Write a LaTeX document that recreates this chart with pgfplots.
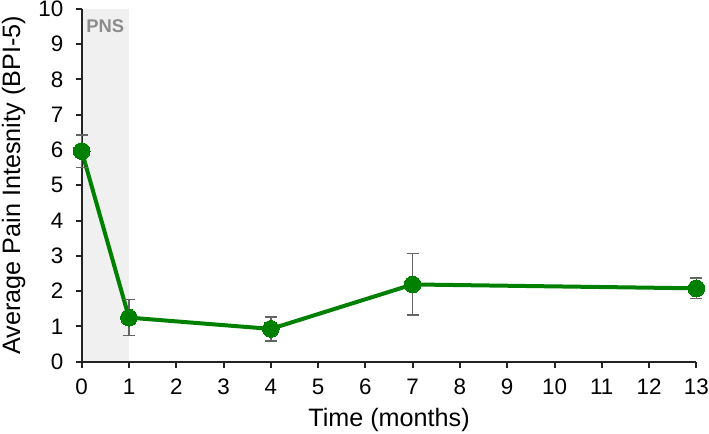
\documentclass[border=0pt]{standalone}
\usepackage{fontspec}
\setmainfont{Liberation Sans}
\usepackage{pgfplots}
\pgfplotsset{compat=1.18}
\definecolor{pgreen}{RGB}{0,128,0}
\definecolor{shade}{RGB}{240,240,240}
\definecolor{axgray}{RGB}{35,35,35}
\definecolor{pnsgray}{RGB}{140,140,140}
\definecolor{errgray}{RGB}{100,100,100}
\begin{document}
\begin{tikzpicture}
\begin{axis}[
  set layers,
  scale only axis,
  width=307.5pt, height=176.5pt,
  xmin=0, xmax=13, ymin=0, ymax=10,
  xtick={0,1,...,13}, ytick={0,1,...,10},
  axis x line*=bottom, axis y line*=left,
  axis line style={axgray, line width=1pt},
  tick style={axgray, line width=1pt},
  tick align=outside, major tick length=3pt,
  /pgf/number format/assume math mode=true,
  ticklabel style={font=\fontsize{11.2pt}{12pt}\selectfont},
  xticklabel style={inner sep=0pt, yshift=-5.6pt},
  yticklabel style={inner sep=0.5pt, xshift=-5.5pt},
  label style={font=\fontsize{12.6pt}{14pt}\selectfont, inner sep=1pt},
  xlabel={Time (months)},
  ylabel={Average Pain Intesnity (BPI-5)},
  xlabel style={at={(axis description cs:0.5,0)}, anchor=center, yshift=-29pt},
  ylabel style={at={(axis description cs:0,0.5)}, anchor=center, yshift=34pt},
  clip=false,
]
\addplot[fill=shade, draw=none, on layer=axis background] coordinates {(0,0) (0,10) (1,10) (1,0)} \closedcycle;
\node[text=pnsgray, font=\bfseries\fontsize{9.2pt}{10pt}\selectfont] at (axis cs:0.5,9.5) {PNS};
\addplot[pgreen, line width=2pt, mark=*, mark size=4.2pt, mark options={fill=pgreen, draw=pgreen, line width=0pt},
  error bars/.cd, y dir=both, y explicit,
  error bar style={errgray, line width=0.7pt},
  error mark options={rotate=90, mark size=3pt, errgray, line width=0.7pt}]
  table[x=x, y=y, y error=e] {
  x  y     e
  0  5.97  0.46
  1  1.25  0.51
  4  0.93  0.34
  7  2.19  0.87
  13 2.08  0.29
};
\end{axis}
\end{tikzpicture}
\end{document}
